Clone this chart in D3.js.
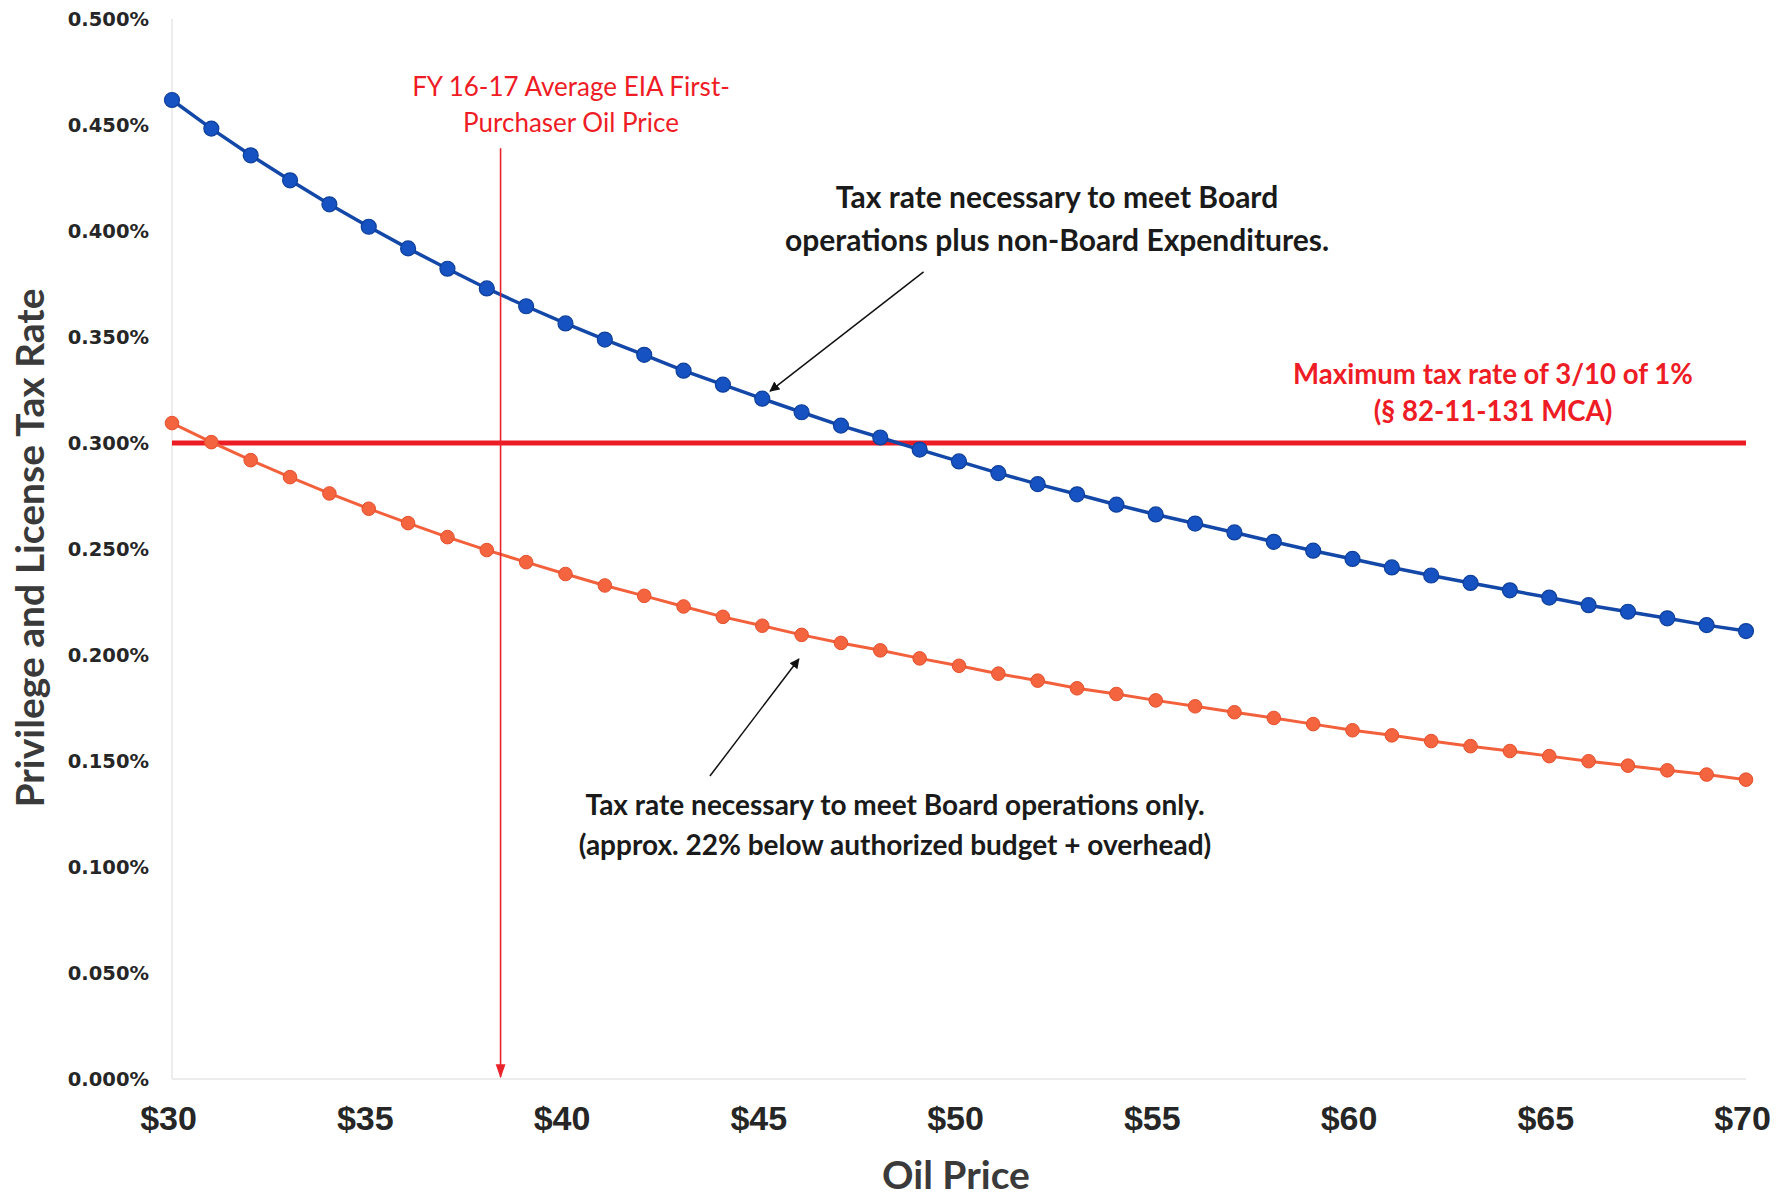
<!DOCTYPE html>
<html><head><meta charset="utf-8">
<script src="https://cdn.jsdelivr.net/npm/d3@7"></script>
<style>
html,body{margin:0;padding:0;background:#fff;}
svg{display:block;}
</style></head>
<body>
<svg id="chart" width="1789" height="1197"></svg>
<script>
// ---- data ----
const oilPrices = d3.range(30, 71); // $30 .. $70 step $1
const boardPlusNonBoard = [0.4618,0.4483,0.4357,0.4239,0.4126,0.4020,0.3918,0.3822,0.3729,0.3645,
  0.3564,0.3488,0.3416,0.3341,0.3275,0.3209,0.3145,0.3082,0.3026,0.2969,
  0.2913,0.2858,0.2806,0.2758,0.2709,0.2663,0.2620,0.2578,0.2534,0.2492,
  0.2453,0.2413,0.2375,0.2340,0.2305,0.2271,0.2235,0.2204,0.2173,0.2141,0.2113];
const boardOnly = [0.3094,0.3004,0.2919,0.2839,0.2762,0.2690,0.2622,0.2556,0.2495,0.2438,
  0.2382,0.2328,0.2279,0.2229,0.2180,0.2138,0.2095,0.2057,0.2022,0.1984,
  0.1949,0.1912,0.1879,0.1843,0.1816,0.1786,0.1758,0.1730,0.1703,0.1674,
  0.1645,0.1621,0.1594,0.1570,0.1547,0.1523,0.1499,0.1478,0.1456,0.1436,0.1412];
const maxTaxRate = 0.300;
const fyAveragePrice = 38.35;
const yTicks = [0,0.05,0.10,0.15,0.20,0.25,0.30,0.35,0.40,0.45,0.50];
const xTicks = [30,35,40,45,50,55,60,65,70];

const svg = d3.select("#chart");
const x = d3.scaleLinear().domain([30,70]).range([172,1746]);
const y = d3.scaleLinear().domain([0,0.5]).range([1079,19]);

// defs for arrowheads
const defs = svg.append("defs");
defs.append("marker").attr("id","blackHead").attr("viewBox","0 0 10 10")
  .attr("refX",9).attr("refY",5).attr("markerWidth",10).attr("markerHeight",10)
  .attr("markerUnits","userSpaceOnUse").attr("orient","auto")
  .append("path").attr("d","M0,0 L10,5 L0,10 z").attr("fill","#111");
defs.append("marker").attr("id","redHead").attr("viewBox","0 0 10 10")
  .attr("refX",9).attr("refY",5).attr("markerWidth",14).attr("markerHeight",14)
  .attr("markerUnits","userSpaceOnUse").attr("orient","auto")
  .append("path").attr("d","M0,1.5 L10,5 L0,8.5 z").attr("fill","#e8232b");

// faint axis lines
svg.append("line").attr("x1",x(30)).attr("x2",x(30)).attr("y1",y(0.5)).attr("y2",y(0))
  .attr("stroke","#ececec").attr("stroke-width",2);
svg.append("line").attr("x1",x(30)).attr("x2",x(70)).attr("y1",y(0)).attr("y2",y(0))
  .attr("stroke","#ececec").attr("stroke-width",2);

// y axis
const yAxis = d3.axisLeft(y).tickValues(yTicks).tickSize(0).tickPadding(0)
  .tickFormat(d => d3.format(".3f")(d) + "%");
const gy = svg.append("g").attr("transform","translate(149,0)").call(yAxis);
gy.select(".domain").remove();
gy.selectAll("text").attr("font-family","'DejaVu Sans',Verdana,sans-serif")
  .attr("font-weight","bold").attr("font-size",19.5).attr("fill","#262626").attr("dy","0.35em");

// x axis
const xAxis = d3.axisBottom(x).tickValues(xTicks).tickSize(0).tickPadding(0)
  .tickFormat(d => "$" + d);
const gx = svg.append("g").attr("transform","translate(-4,1106)").call(xAxis);
gx.select(".domain").remove();
gx.selectAll("text").attr("font-family","'Liberation Sans Narrow','Arial Narrow','Liberation Sans',Arial,sans-serif")
  .attr("font-weight","bold").attr("font-size",34).attr("fill","#262626").attr("dy","0.71em");

// axis titles
svg.append("text").attr("x",956).attr("y",1189).attr("text-anchor","middle")
  .attr("font-family","Lato,'Open Sans',sans-serif").attr("font-weight","bold")
  .attr("font-size",39).attr("fill","#3a3a3a").text("Oil Price");
svg.append("text").attr("transform","translate(44,548) rotate(-90)").attr("text-anchor","middle")
  .attr("font-family","Lato,'Open Sans',sans-serif").attr("font-weight","bold")
  .attr("font-size",39).attr("fill","#3a3a3a").text("Privilege and License Tax Rate");

// max tax rate line
svg.append("line").attr("x1",x(30)).attr("x2",x(70)).attr("y1",y(maxTaxRate)).attr("y2",y(maxTaxRate))
  .attr("stroke","#ec1c24").attr("stroke-width",5);

// series
const line = d3.line().x(d => x(d[0])).y(d => y(d[1]));
const blueData = oilPrices.map((p,i) => [p, boardPlusNonBoard[i]]);
const orangeData = oilPrices.map((p,i) => [p, boardOnly[i]]);

svg.append("path").datum(orangeData).attr("d",line).attr("fill","none")
  .attr("stroke","#f2603c").attr("stroke-width",3);
svg.append("g").selectAll("circle").data(orangeData).join("circle")
  .attr("cx",d=>x(d[0])).attr("cy",d=>y(d[1])).attr("r",6.8)
  .attr("fill","#f4643f").attr("stroke","#e5502e").attr("stroke-width",1);

svg.append("path").datum(blueData).attr("d",line).attr("fill","none")
  .attr("stroke","#1448a8").attr("stroke-width",3.5);
svg.append("g").selectAll("circle").data(blueData).join("circle")
  .attr("cx",d=>x(d[0])).attr("cy",d=>y(d[1])).attr("r",7.5)
  .attr("fill","#1652c2").attr("stroke","#0e3f9a").attr("stroke-width",1.2);

// FY average price vertical arrow
svg.append("line").attr("x1",x(fyAveragePrice)).attr("x2",x(fyAveragePrice))
  .attr("y1",y(0.439)).attr("y2",y(0.001))
  .attr("stroke","#e8232b").attr("stroke-width",1.6).attr("marker-end","url(#redHead)");
const fyText = svg.append("text").attr("text-anchor","middle")
  .attr("font-family","Lato,'Open Sans',sans-serif").attr("font-size",26).attr("fill","#ee1c25");
fyText.append("tspan").attr("x",571).attr("y",96).text("FY 16-17 Average EIA First-");
fyText.append("tspan").attr("x",571).attr("y",132).text("Purchaser Oil Price");

// max tax annotation
const maxText = svg.append("text").attr("text-anchor","middle")
  .attr("font-family","Lato,'Open Sans',sans-serif").attr("font-weight","bold")
  .attr("font-size",27.6).attr("fill","#ee1c25");
maxText.append("tspan").attr("x",1493).attr("y",384).text("Maximum tax rate of 3/10 of 1%");
maxText.append("tspan").attr("x",1493).attr("y",421).text("(§ 82-11-131 MCA)");

// annotation 1
const a1 = svg.append("text").attr("text-anchor","middle")
  .attr("font-family","Lato,'Open Sans',sans-serif").attr("font-weight","bold")
  .attr("font-size",30).attr("fill","#1a1a1a");
a1.append("tspan").attr("x",1057).attr("y",208).text("Tax rate necessary to meet Board");
a1.append("tspan").attr("x",1057).attr("y",251).text("operations plus non-Board Expenditures.");
svg.append("line").attr("x1",x(49.1)).attr("y1",y(0.3807)).attr("x2",x(45.2)).attr("y2",y(0.3245))
  .attr("stroke","#111").attr("stroke-width",1.5).attr("marker-end","url(#blackHead)");

// annotation 2
const a2 = svg.append("text").attr("text-anchor","middle")
  .attr("font-family","Lato,'Open Sans',sans-serif").attr("font-weight","bold")
  .attr("font-size",28).attr("fill","#1a1a1a");
a2.append("tspan").attr("x",895).attr("y",815).text("Tax rate necessary to meet Board operations only.");
a2.append("tspan").attr("x",895).attr("y",855).text("(approx. 22% below authorized budget + overhead)");
svg.append("line").attr("x1",x(43.67)).attr("y1",y(0.1429)).attr("x2",x(45.93)).attr("y2",y(0.1981))
  .attr("stroke","#111").attr("stroke-width",1.5).attr("marker-end","url(#blackHead)");
</script>
</body></html>
